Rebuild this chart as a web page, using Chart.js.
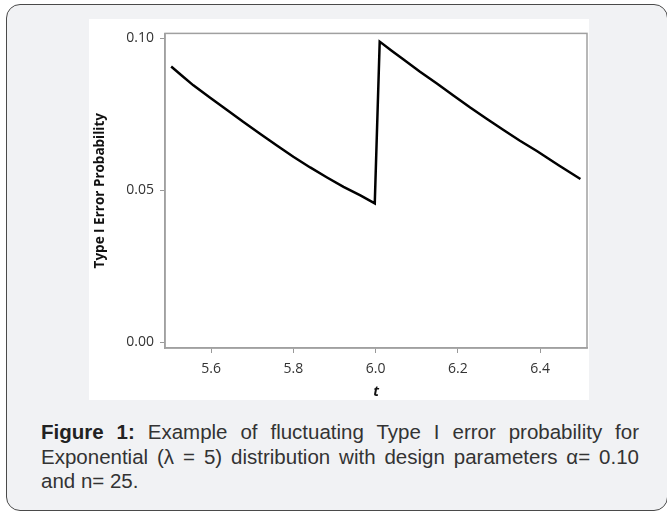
<!DOCTYPE html>
<html>
<head>
<meta charset="utf-8">
<script src="https://cdn.jsdelivr.net/npm/chart.js@4.4.1/dist/chart.umd.min.js"></script>
<style>
  html, body { margin: 0; padding: 0; background: #fff; width: 667px; height: 512px; overflow: hidden; }
  .frame {
    position: absolute; left: 6px; top: 4px; width: 660px; height: 505px;
    border: 1.5px solid #4a4a4a; border-radius: 14px; background: #f1f2f4;
  }
  .panel { position: absolute; left: 89px; top: 19px; width: 500px; height: 381px; background: #fff; }
  .caption {
    position: absolute; left: 41px; top: 420px; width: 598px;
    font-family: "Liberation Sans", Arial, sans-serif; font-size: 20.5px; line-height: 24.5px;
    color: #333; text-align: justify;
  }
  .caption b { color: #222; }
</style>
</head>
<body>
<div class="frame"></div>
<div class="panel"><canvas id="myChart" width="500" height="381"></canvas></div>
<div class="caption"><b>Figure 1:</b> Example of fluctuating Type I error probability for Exponential (λ = 5) distribution with design parameters α= 0.10 and n= 25.</div>
<script>
const tValues = [
  5.503, 5.530, 5.557, 5.597, 5.638, 5.678, 5.719, 5.760, 5.800, 5.841, 5.882, 5.922, 5.963, 5.998,
  6.010, 6.039, 6.068, 6.108, 6.149, 6.190, 6.230, 6.270, 6.311, 6.351, 6.392, 6.445, 6.498,
];
const probValues = [
  0.0907, 0.0876, 0.0845, 0.0805, 0.0765, 0.0725, 0.0686, 0.0647, 0.0610, 0.0575, 0.0542, 0.0511, 0.0483, 0.0457,
  0.0989, 0.0959, 0.0930, 0.0890, 0.0851, 0.0811, 0.0772, 0.0735, 0.0698, 0.0663, 0.0629, 0.0582, 0.0537,
];
const xTicks = [5.6, 5.8, 6.0, 6.2, 6.4];
const yTicks = [0.00, 0.05, 0.10];

// frame around the plot area
const boxPlugin = {
  id: "box",
  afterDraw(chart) {
    const { ctx, chartArea } = chart;
    ctx.save();
    ctx.strokeStyle = "#a0a0a0";
    ctx.lineWidth = 1.5;
    ctx.strokeRect(chartArea.left, chartArea.top, chartArea.right - chartArea.left, chartArea.bottom - chartArea.top);
    ctx.restore();
  },
};

const points = tValues.map((t, i) => ({ x: t, y: probValues[i] }));
const ctx = document.getElementById("myChart").getContext("2d");

new Chart(ctx, {
  type: "scatter",
  data: {
    datasets: [
      {
        data: points,
        showLine: true,
        borderColor: "#000",
        borderWidth: 2.5,
        borderJoinStyle: "miter",
        pointRadius: 0,
        tension: 0,
      },
    ],
  },
  options: {
    responsive: false,
    animation: false,
    devicePixelRatio: 1,
    layout: { padding: { top: 6, right: 2, left: 0, bottom: 0 } },
    plugins: { legend: { display: false }, tooltip: { enabled: false } },
    scales: {
      x: {
        type: "linear",
        min: 5.488,
        max: 6.514,
        afterBuildTicks: (s) => { s.ticks = xTicks.map((v) => ({ value: v })); },
        afterFit: (s) => { s.height = 52; },
        ticks: {
          callback: (v) => v.toFixed(1),
          font: { family: "Open Sans", size: 14 },
          color: "#333",
          padding: 8,
          maxRotation: 0,
        },
        grid: { drawOnChartArea: false, drawTicks: true, tickLength: 5, color: "#999" },
        border: { display: true, color: "#a0a0a0", width: 1.5 },
        title: {
          display: true,
          text: "t",
          font: { family: "Open Sans", size: 14, weight: "bold", style: "italic" },
          color: "#111",
          padding: { top: 0, bottom: 0 },
        },
      },
      y: {
        min: -0.0019,
        max: 0.1016,
        afterBuildTicks: (s) => { s.ticks = yTicks.map((v) => ({ value: v })); },
        afterFit: (s) => { s.width = 76; },
        ticks: {
          callback: (v) => v.toFixed(2),
          font: { family: "Open Sans", size: 14 },
          color: "#333",
          padding: 6,
        },
        grid: { drawOnChartArea: false, drawTicks: true, tickLength: 5, color: "#999" },
        border: { display: true, color: "#a0a0a0", width: 1.5 },
        title: {
          display: true,
          text: "Type I Error Probability",
          font: { family: "Open Sans", size: 13.5, weight: "bold" },
          color: "#111",
          padding: { top: 3, bottom: 0 },
        },
      },
    },
  },
  plugins: [boxPlugin],
});
</script>
</body>
</html>
